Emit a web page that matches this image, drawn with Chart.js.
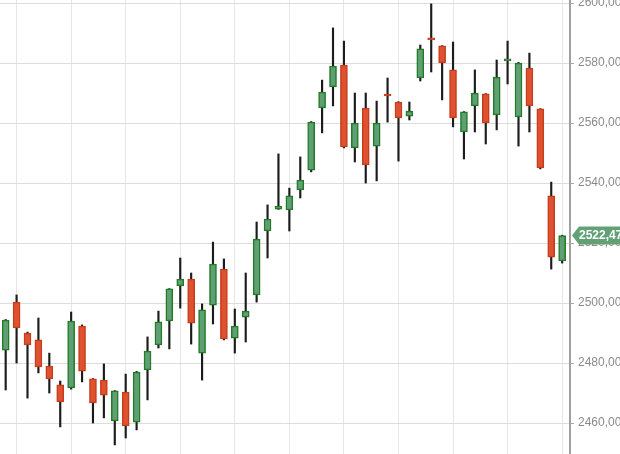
<!DOCTYPE html>
<html>
<head>
<meta charset="utf-8">
<script src="https://cdn.jsdelivr.net/npm/chart.js@4/dist/chart.umd.min.js"></script>
<style>
  html, body { margin: 0; padding: 0; background: #fff; }
  #wrap { width: 620px; height: 454px; position: relative; }
</style>
</head>
<body>
<div id="wrap"><canvas id="candles"></canvas></div>
<script>
// daily OHLC
const opens  = [2484.3, 2500.3, 2490.0, 2487.7, 2479.0, 2472.7, 2471.7, 2492.3, 2474.7, 2474.3,
                2460.7, 2470.3, 2460.3, 2477.7, 2486.0, 2494.0, 2505.7, 2508.0, 2483.3, 2499.3,
                2511.3, 2488.3, 2495.3, 2502.7, 2524.0, 2531.3, 2531.0, 2537.7, 2544.3, 2565.0,
                2572.0, 2579.3, 2551.7, 2565.0, 2552.3, 2569.3, 2567.0, 2562.3, 2575.0, 2588.0,
                2585.7, 2577.7, 2557.0, 2565.7, 2569.7, 2562.7, 2580.7, 2562.0, 2578.3, 2564.7,
                2535.7, 2514.0];
const highs  = [2494.5, 2502.7, 2490.3, 2495.0, 2483.3, 2474.0, 2497.0, 2492.7, 2474.8, 2479.7,
                2470.8, 2476.3, 2477.2, 2488.7, 2497.3, 2504.8, 2515.0, 2510.0, 2499.7, 2520.3,
                2514.7, 2498.0, 2510.0, 2527.0, 2532.7, 2549.7, 2538.3, 2548.7, 2560.5, 2574.3,
                2591.7, 2587.3, 2570.0, 2570.0, 2567.3, 2575.0, 2567.1, 2567.0, 2586.0, 2599.7,
                2585.8, 2587.0, 2563.8, 2577.7, 2569.8, 2581.0, 2587.3, 2580.2, 2583.3, 2564.8,
                2540.3, 2522.6];
const lows   = [2471.0, 2480.0, 2468.3, 2476.7, 2470.0, 2458.7, 2471.3, 2473.7, 2460.0, 2461.7,
                2452.7, 2455.0, 2457.7, 2467.7, 2485.0, 2484.7, 2498.3, 2486.3, 2474.3, 2493.0,
                2487.7, 2483.3, 2487.0, 2500.3, 2515.0, 2531.2, 2524.0, 2535.0, 2543.7, 2556.7,
                2565.7, 2551.7, 2547.0, 2540.0, 2540.7, 2560.3, 2547.3, 2561.0, 2574.0, 2577.0,
                2567.7, 2558.7, 2548.0, 2557.0, 2553.0, 2557.7, 2573.0, 2552.3, 2557.0, 2544.7,
                2511.3, 2513.3];
const closes = [2494.3, 2491.7, 2486.0, 2478.7, 2474.7, 2467.0, 2494.0, 2477.3, 2466.7, 2469.3,
                2470.7, 2459.0, 2477.0, 2484.0, 2493.7, 2504.7, 2508.0, 2493.3, 2497.7, 2513.0,
                2488.0, 2492.3, 2497.3, 2521.3, 2528.0, 2532.3, 2535.7, 2541.0, 2560.3, 2570.3,
                2579.0, 2552.0, 2560.0, 2546.0, 2560.0, 2569.0, 2561.7, 2564.0, 2584.7, 2587.7,
                2580.0, 2561.7, 2563.7, 2570.0, 2560.0, 2575.3, 2581.3, 2580.0, 2565.7, 2545.0,
                2515.3, 2522.47];
const days = opens.map((_, i) => i);              // trading day index
const weekStarts = [1, 6, 11, 16, 21, 26, 31, 36, 41, 46, 51];  // vertical grid lines
const priceTicks = [2460, 2480, 2500, 2520, 2540, 2560, 2580, 2600];

const UP_FILL = '#5f9f74', UP_LINE = '#237a26';
const DN_FILL = '#e0512f', DN_LINE = '#c43d1c';
const isUp = days.map(i => closes[i] >= opens[i]);

const fmt = v => v.toFixed(2).replace('.', ',');

// current price tag on the right axis
const priceTag = {
    id: 'priceTag',
    afterDraw(chart) {
        const y = chart.scales.y.getPixelForValue(closes[closes.length - 1]);
        const x0 = chart.chartArea.right + 2;
        const c = chart.ctx;
        c.save();
        c.fillStyle = '#62a176';
        c.beginPath();
        c.moveTo(x0, y);
        c.lineTo(x0 + 7, y - 9);
        c.lineTo(620, y - 9);
        c.lineTo(620, y + 9);
        c.lineTo(x0 + 7, y + 9);
        c.closePath();
        c.fill();
        c.fillStyle = '#fff';
        c.font = "bold 12px 'Liberation Sans', Arial, sans-serif";
        c.textBaseline = 'middle';
        c.fillText(fmt(closes[closes.length - 1]), x0 + 7, y + 0.5);
        c.restore();
    }
};

new Chart(document.getElementById('candles'), {
    type: 'bar',
    data: {
        datasets: [
            {
                label: 'Body',
                order: 1,
                data: days.map(i => ({ x: i, y: [opens[i], closes[i]] })),
                backgroundColor: days.map(i => isUp[i] ? UP_FILL : DN_FILL),
                borderColor: days.map(i => isUp[i] ? UP_LINE : DN_LINE),
                borderWidth: 1.5,
                borderSkipped: false,
                barThickness: 7,
                minBarLength: 2,
                grouped: false
            },
            {
                label: 'Wick',
                order: 2,
                data: days.map(i => ({ x: i, y: [lows[i], highs[i]] })),
                backgroundColor: '#1c1c1c',
                borderWidth: 0,
                barThickness: 1.5,
                grouped: false
            }
        ]
    },
    options: {
        responsive: true,
        maintainAspectRatio: false,
        animation: false,
        layout: { padding: 0 },
        plugins: {
            legend: { display: false },
            tooltip: { enabled: false }
        },
        scales: {
            x: {
                type: 'linear',
                offset: false,
                min: -0.52,
                max: 51.72,
                afterBuildTicks: s => { s.ticks = weekStarts.map(v => ({ value: v })); },
                afterFit: s => { s.height = 0; s.paddingLeft = 0; s.paddingRight = 0; },
                ticks: { display: false },
                grid: { offset: false, color: '#e6e6e6', lineWidth: 1, drawTicks: false },
                border: { display: false }
            },
            y: {
                position: 'right',
                min: 2449.67,
                max: 2601,
                afterBuildTicks: s => { s.ticks = priceTicks.map(v => ({ value: v })); },
                afterFit: s => { s.width = 50; s.paddingTop = 0; s.paddingBottom = 0; },
                ticks: {
                    color: '#8a8a8a',
                    padding: 4,
                    font: { family: "'Liberation Sans', Arial, sans-serif", size: 12 },
                    callback: v => fmt(v)
                },
                grid: {
                    color: '#dcdcdc',
                    borderDash: [2, 2],
                    tickColor: '#a8a8a8',
                    tickBorderDash: [],
                    tickLength: 4
                },
                border: { color: '#a0a0a0', width: 2 }
            }
        }
    },
    plugins: [priceTag]
});
</script>
</body>
</html>
